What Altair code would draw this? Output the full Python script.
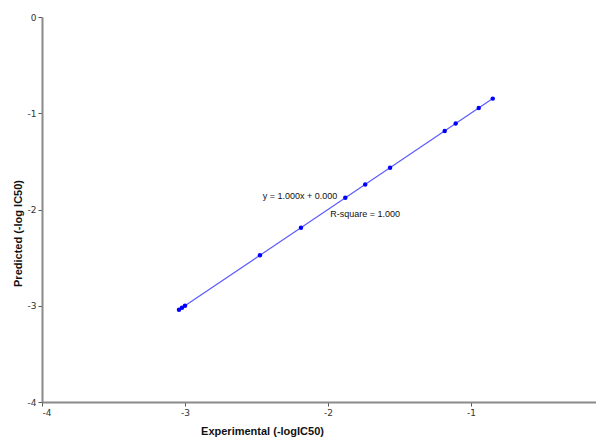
import altair as alt
import pandas as pd

experimental = [-3.042, -3.021, -3.000, -2.476, -2.189, -1.879, -1.740, -1.566, -1.184, -1.107, -0.946, -0.848]
predicted = [-3.042, -3.021, -3.000, -2.476, -2.189, -1.879, -1.740, -1.566, -1.184, -1.107, -0.946, -0.848]

ann_text = ["y = 1.000x + 0.000", "R-square = 1.000"]
ann_x = [-2.196, -1.741]
ann_y = [-1.86, -2.05]

x_ticks = [-4, -3, -2, -1, 0]
y_ticks = [-4, -3, -2, -1, 0]

df = pd.DataFrame({"exp": experimental, "pred": predicted})
ann = pd.DataFrame({"t": ann_text, "x": ann_x, "y": ann_y})

xs = alt.Scale(domain=[-4, -0.126], nice=False, zero=False)
ys = alt.Scale(domain=[-4, 0], nice=False, zero=False)

lab = "datum.value == 0 ? '0' : '-' + format(abs(datum.value), 'd')"

axis_common = dict(
    grid=False, domainColor="#8a8a8a", domainWidth=2, tickColor="#555555",
    tickSize=4, tickWidth=1, labelFont="DejaVu Sans", labelFontSize=9,
    labelColor="#333333", titleFont="Liberation Sans", titleFontSize=11,
    titleFontWeight="bold", titleColor="#111111", labelExpr=lab,
)

xaxis = alt.Axis(values=x_ticks, title="Experimental (-logIC50)", titlePadding=8,
                 titleX=220, titleAlign="center", labelPadding=2, **axis_common)
yaxis = alt.Axis(values=y_ticks, title="Predicted (-log IC50)", titlePadding=4,
                 titleY=216, titleAlign="center", labelPadding=2, **axis_common)

base = alt.Chart(df)

line = base.transform_regression("exp", "pred", method="linear").mark_line(
    color="#5b5bff", strokeWidth=1.2
).encode(
    x=alt.X("exp:Q", scale=xs, axis=xaxis),
    y=alt.Y("pred:Q", scale=ys, axis=yaxis),
)

pts = base.mark_circle(color="#0000ff", size=20, opacity=1).encode(
    x=alt.X("exp:Q", scale=xs),
    y=alt.Y("pred:Q", scale=ys),
)

txt = alt.Chart(ann).mark_text(font="Liberation Sans", fontSize=9, color="#111111").encode(
    x=alt.X("x:Q", scale=xs),
    y=alt.Y("y:Q", scale=ys),
    text="t:N",
)

chart = alt.layer(line, pts, txt).properties(
    width=554, height=385,
    autosize=alt.AutoSizeParams(type="none"),
    padding={"left": 34, "top": 9, "right": 0, "bottom": 38},
).configure_view(stroke=None)

chart.save("out.html", embed_options={"renderer": "svg", "actions": False})
